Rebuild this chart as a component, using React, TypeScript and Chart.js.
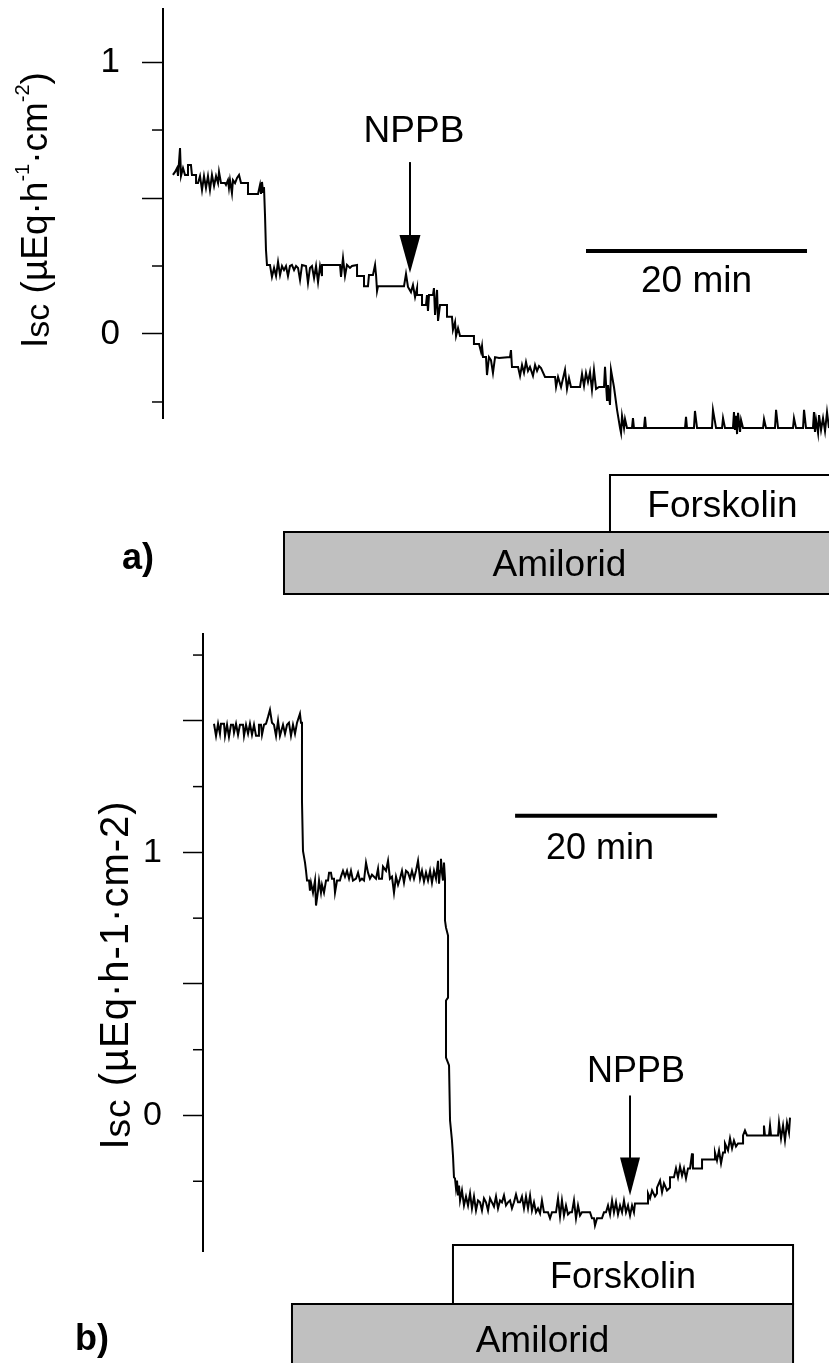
import React, { useEffect, useRef } from "react";
import { Chart, registerables } from "chart.js";

Chart.register(...registerables);

const FONT = '"Liberation Sans", Arial, Helvetica, sans-serif';
Chart.defaults.font.family = FONT;

// ---------------- Panel a) : time (min) and Isc (µEq·h-1·cm-2) ----------------
const minutesA = [
  0.90, 1.09, 1.27, 1.36, 1.54, 1.63, 1.81, 1.99, 2.26, 2.26,
  2.53, 2.62, 2.99, 2.99, 3.17, 3.35, 3.53, 3.71, 3.89, 4.07,
  4.25, 4.43, 4.62, 4.80, 4.98, 5.07, 5.25, 5.61, 5.70, 5.88,
  5.97, 6.06, 6.24, 6.33, 6.52, 6.70, 6.88, 7.06, 7.69, 7.69,
  8.60, 8.78, 8.87, 8.96, 9.05, 9.14, 9.23, 9.32, 9.41, 9.68,
  9.86, 10.05, 10.23, 10.41, 10.59, 10.77, 10.95, 11.13, 11.31, 11.49,
  11.67, 11.86, 12.04, 12.22, 12.40, 12.58, 12.94, 13.12, 13.30, 13.48,
  13.67, 13.85, 14.03, 14.21, 14.39, 14.39, 16.02, 16.11, 16.29, 16.47,
  16.65, 16.92, 17.10, 17.56, 17.56, 18.19, 18.19, 18.55, 18.64, 19.00,
  19.19, 19.28, 19.37, 19.46, 21.81, 21.99, 22.17, 22.44, 22.62, 22.81,
  22.99, 22.99, 23.44, 23.44, 23.80, 23.89, 23.98, 24.07, 24.43, 24.52,
  24.62, 24.80, 24.89, 25.07, 25.70, 25.70, 26.15, 26.24, 26.43, 26.52,
  26.70, 26.88, 28.14, 28.14, 28.60, 28.78, 28.87, 28.96, 29.23, 29.32,
  29.50, 29.68, 29.86, 30.05, 30.41, 31.40, 31.49, 31.58, 32.13, 32.31,
  32.49, 32.67, 32.85, 33.03, 33.21, 33.48, 33.67, 33.85, 34.03, 34.21,
  34.57, 35.48, 35.57, 35.75, 36.02, 36.38, 36.56, 36.74, 36.92, 37.74,
  37.92, 38.10, 38.28, 38.46, 38.64, 38.82, 39.00, 39.19, 39.46, 39.91,
  40.00, 40.18, 40.27, 40.45, 40.54, 40.81, 41.09, 41.36, 41.45, 41.54,
  41.72, 41.81, 41.99, 42.44, 42.53, 42.62, 43.53, 43.62, 43.71, 47.24,
  47.33, 47.42, 48.05, 48.14, 48.33, 49.68, 49.77, 50.05, 50.59, 50.68,
  50.86, 51.58, 51.67, 51.76, 51.86, 51.95, 52.04, 52.22, 52.31, 52.49,
  52.85, 54.30, 54.39, 54.57, 55.38, 55.48, 55.66, 57.01, 57.10, 57.29,
  57.92, 58.01, 58.19, 58.82, 58.91, 59.00, 59.10, 59.28, 59.37, 59.55,
  59.73, 59.91, 60.09, 60.27,
];
const iscA = [
  0.585, 0.596, 0.610, 0.581, 0.684, 0.581, 0.610, 0.585, 0.585, 0.621,
  0.621, 0.585, 0.585, 0.555, 0.555, 0.581, 0.529, 0.581, 0.537, 0.581,
  0.529, 0.585, 0.544, 0.581, 0.555, 0.596, 0.555, 0.555, 0.548, 0.566,
  0.537, 0.566, 0.518, 0.566, 0.555, 0.574, 0.585, 0.555, 0.555, 0.515,
  0.515, 0.548, 0.515, 0.559, 0.522, 0.540, 0.438, 0.309, 0.254, 0.254,
  0.210, 0.243, 0.213, 0.265, 0.217, 0.250, 0.235, 0.250, 0.213, 0.250,
  0.254, 0.235, 0.250, 0.243, 0.199, 0.254, 0.250, 0.188, 0.243, 0.250,
  0.206, 0.250, 0.191, 0.250, 0.213, 0.254, 0.254, 0.210, 0.279, 0.213,
  0.254, 0.243, 0.250, 0.254, 0.213, 0.213, 0.176, 0.176, 0.217, 0.217,
  0.254, 0.217, 0.158, 0.176, 0.176, 0.221, 0.173, 0.154, 0.180, 0.136,
  0.169, 0.143, 0.143, 0.107, 0.107, 0.143, 0.085, 0.143, 0.143, 0.169,
  0.070, 0.162, 0.048, 0.107, 0.107, 0.063, 0.063, 0.015, 0.044, -0.007,
  0.022, -0.007, -0.007, -0.037, -0.037, -0.066, -0.044, -0.085, -0.085, -0.151,
  -0.085, -0.096, -0.143, -0.085, -0.088, -0.085, -0.059, -0.121, -0.121, -0.154,
  -0.114, -0.143, -0.103, -0.136, -0.121, -0.154, -0.114, -0.136, -0.118, -0.125,
  -0.158, -0.158, -0.195, -0.158, -0.195, -0.132, -0.202, -0.162, -0.195, -0.195,
  -0.147, -0.191, -0.143, -0.176, -0.140, -0.206, -0.132, -0.202, -0.195, -0.195,
  -0.121, -0.243, -0.188, -0.261, -0.132, -0.195, -0.279, -0.346, -0.364, -0.301,
  -0.346, -0.313, -0.346, -0.346, -0.309, -0.346, -0.346, -0.305, -0.346, -0.346,
  -0.305, -0.346, -0.346, -0.283, -0.346, -0.346, -0.279, -0.346, -0.346, -0.309,
  -0.346, -0.346, -0.287, -0.353, -0.301, -0.368, -0.290, -0.360, -0.316, -0.346,
  -0.346, -0.346, -0.313, -0.346, -0.346, -0.279, -0.346, -0.346, -0.309, -0.346,
  -0.346, -0.279, -0.346, -0.346, -0.287, -0.360, -0.316, -0.364, -0.298, -0.353,
  -0.309, -0.357, -0.287, -0.346,
];
const ticksA = [-0.25, 0, 0.25, 0.5, 0.75, 1];
const majorTicksA = [0, 0.5, 1];
const labelledTicksA = [0, 1];
const treatmentNamesA = ["Forskolin", "Amilorid"];
const treatmentStartA = [40.45, 10.95];
const treatmentEndA = [60.8, 60.8];
const nppbTimeA = 22.35;
const nppbTipA = 0.224;
const scaleBarA = [38.28, 58.28];
const scaleBarLevelA = 0.305;

// ---------------- Panel b) ----------------
const minutesB = [
  1.09, 1.29, 1.49, 1.68, 1.78, 2.08, 2.18, 2.38, 2.57, 2.77,
  2.97, 3.07, 3.27, 3.47, 3.66, 3.96, 4.06, 4.26, 4.46, 4.65,
  4.85, 5.05, 5.25, 5.45, 5.54, 5.74, 5.84, 6.04, 6.24, 6.44,
  6.63, 6.83, 7.03, 7.23, 7.43, 7.62, 7.92, 8.12, 8.32, 8.51,
  8.71, 8.91, 9.11, 9.31, 9.50, 9.60, 9.70, 9.80, 9.80, 9.90,
  10.10, 10.20, 10.30, 10.50, 10.59, 10.69, 10.89, 11.09, 11.19, 11.39,
  11.49, 11.68, 11.78, 11.98, 12.18, 12.38, 12.48, 12.67, 12.77, 12.97,
  13.07, 13.27, 13.56, 13.66, 13.86, 14.06, 14.26, 14.46, 14.65, 14.85,
  15.15, 15.35, 15.54, 15.74, 15.94, 16.14, 16.34, 16.53, 16.73, 17.13,
  17.33, 17.43, 17.72, 17.82, 18.12, 18.32, 18.51, 18.71, 18.91, 19.11,
  19.31, 19.50, 19.70, 19.90, 20.10, 20.30, 20.50, 20.69, 20.89, 21.09,
  21.29, 21.49, 21.68, 21.88, 22.08, 22.28, 22.48, 22.67, 22.87, 23.07,
  23.27, 23.37, 23.47, 23.56, 23.66, 23.76, 23.86, 23.96, 23.96, 24.06,
  24.26, 24.26, 24.06, 24.06, 24.36, 24.46, 24.65, 24.75, 24.85, 24.95,
  25.05, 25.15, 25.25, 25.35, 25.45, 25.64, 25.84, 26.04, 26.24, 26.44,
  26.63, 26.83, 27.03, 27.23, 27.43, 27.62, 27.82, 28.02, 28.22, 28.42,
  28.61, 28.81, 29.01, 29.21, 29.41, 29.60, 29.80, 30.00, 30.20, 30.40,
  30.59, 30.79, 30.99, 31.19, 31.39, 31.58, 31.78, 31.98, 32.18, 32.38,
  32.57, 32.77, 32.97, 33.17, 33.37, 33.56, 33.76, 33.96, 34.16, 34.36,
  34.55, 34.75, 34.95, 35.15, 35.35, 35.54, 35.74, 35.94, 36.14, 36.34,
  36.53, 36.73, 36.93, 37.13, 37.33, 37.52, 38.12, 38.32, 38.51, 38.71,
  38.81, 39.01, 39.50, 39.70, 39.90, 40.10, 40.30, 40.50, 40.69, 40.89,
  41.09, 41.29, 41.49, 41.68, 41.88, 42.08, 42.28, 42.48, 42.67, 42.77,
  44.06, 44.06, 44.26, 44.46, 44.75, 44.95, 44.95, 45.25, 45.45, 45.64,
  45.94, 46.24, 46.24, 46.63, 46.83, 47.03, 47.23, 47.43, 47.62, 47.82,
  48.02, 48.22, 48.42, 48.51, 49.41, 49.41, 50.69, 50.69, 50.89, 51.09,
  51.29, 51.49, 51.68, 51.68, 51.98, 52.18, 52.38, 52.57, 52.77, 52.97,
  53.47, 53.47, 53.66, 53.86, 55.45, 55.54, 55.64, 56.04, 56.14, 56.24,
  56.93, 57.03, 57.23, 57.43, 57.62, 57.82, 58.02, 58.12,
];
const iscB = [
  1.489, 1.443, 1.489, 1.451, 1.489, 1.489, 1.443, 1.485, 1.439, 1.485,
  1.485, 1.455, 1.489, 1.447, 1.485, 1.485, 1.443, 1.485, 1.451, 1.489,
  1.447, 1.485, 1.443, 1.443, 1.485, 1.485, 1.447, 1.485, 1.489, 1.515,
  1.542, 1.493, 1.485, 1.443, 1.500, 1.443, 1.485, 1.451, 1.485, 1.493,
  1.443, 1.485, 1.451, 1.493, 1.515, 1.527, 1.493, 1.493, 1.196, 1.006,
  0.961, 0.930, 0.893, 0.893, 0.855, 0.885, 0.847, 0.893, 0.798, 0.855,
  0.893, 0.847, 0.877, 0.847, 0.893, 0.893, 0.923, 0.923, 0.900, 0.900,
  0.847, 0.893, 0.893, 0.908, 0.930, 0.908, 0.930, 0.900, 0.930, 0.893,
  0.900, 0.923, 0.893, 0.900, 0.893, 0.961, 0.923, 0.900, 0.915, 0.900,
  0.938, 0.900, 0.900, 0.946, 0.930, 0.968, 0.900, 0.908, 0.847, 0.908,
  0.877, 0.900, 0.930, 0.885, 0.930, 0.923, 0.900, 0.930, 0.900, 0.930,
  0.968, 0.900, 0.930, 0.889, 0.923, 0.893, 0.930, 0.885, 0.930, 0.900,
  0.968, 0.881, 0.930, 0.976, 0.923, 0.893, 0.961, 0.900, 0.741, 0.714,
  0.684, 0.448, 0.437, 0.220, 0.190, -0.019, -0.095, -0.152, -0.235, -0.239,
  -0.277, -0.247, -0.304, -0.266, -0.323, -0.285, -0.342, -0.308, -0.342, -0.296,
  -0.353, -0.308, -0.361, -0.323, -0.330, -0.361, -0.315, -0.330, -0.361, -0.315,
  -0.330, -0.346, -0.308, -0.353, -0.323, -0.330, -0.304, -0.342, -0.330, -0.323,
  -0.353, -0.330, -0.300, -0.330, -0.330, -0.308, -0.353, -0.308, -0.353, -0.304,
  -0.361, -0.330, -0.368, -0.353, -0.372, -0.323, -0.368, -0.368, -0.368, -0.391,
  -0.368, -0.368, -0.368, -0.315, -0.384, -0.323, -0.380, -0.342, -0.376, -0.368,
  -0.368, -0.323, -0.391, -0.342, -0.380, -0.368, -0.368, -0.368, -0.391, -0.391,
  -0.418, -0.391, -0.391, -0.368, -0.368, -0.342, -0.376, -0.323, -0.368, -0.330,
  -0.376, -0.342, -0.368, -0.323, -0.368, -0.342, -0.380, -0.342, -0.368, -0.334,
  -0.334, -0.296, -0.315, -0.285, -0.308, -0.296, -0.274, -0.247, -0.292, -0.258,
  -0.285, -0.274, -0.235, -0.235, -0.201, -0.235, -0.194, -0.228, -0.201, -0.239,
  -0.201, -0.201, -0.144, -0.201, -0.201, -0.167, -0.167, -0.141, -0.171, -0.133,
  -0.182, -0.141, -0.141, -0.106, -0.133, -0.087, -0.125, -0.095, -0.118, -0.106,
  -0.106, -0.076, -0.057, -0.076, -0.076, -0.038, -0.076, -0.076, -0.038, -0.076,
  -0.076, -0.027, -0.087, -0.038, -0.095, -0.027, -0.065, -0.008,
];
const ticksB = [-0.25, 0, 0.25, 0.5, 0.75, 1, 1.25, 1.5, 1.75];
const majorTicksB = [0, 0.5, 1, 1.5];
const labelledTicksB = [0, 1];
const treatmentNamesB = ["Forskolin", "Amilorid"];
const treatmentStartB = [24.75, 8.81];
const treatmentEndB = [58.42, 58.42];
const nppbTimeB = 42.28;
const nppbTipB = -0.304;
const scaleBarB = [30.9, 50.9];
const scaleBarLevelB = 1.139;

type TitlePart = { text: string; size: number; dy: number };

const decorPlugin = {
  id: "decor",
  afterDraw(chart: any, _args: any, o: any) {
    const ctx: CanvasRenderingContext2D = chart.ctx;
    const xs = chart.scales.x;
    const ys = chart.scales.y;
    const left = chart.chartArea.left;
    ctx.save();
    ctx.strokeStyle = "#000";
    ctx.fillStyle = "#000";

    // minor tick marks (shorter)
    ctx.lineWidth = 1.5;
    o.minorTicks.forEach((v: number) => {
      const y = ys.getPixelForValue(v);
      ctx.beginPath();
      ctx.moveTo(left - o.minorLen, y);
      ctx.lineTo(left, y);
      ctx.stroke();
    });

    // rotated y title with sub/superscripts
    const parts: TitlePart[] = o.title;
    (ctx as any).letterSpacing = o.titleSpacing || "0px";
    let total = 0;
    const widths = parts.map((p) => {
      ctx.font = `${p.size}px ${FONT}`;
      const w = ctx.measureText(p.text).width;
      total += w;
      return w;
    });
    ctx.save();
    ctx.translate(o.titleX, o.titleY + total / 2);
    ctx.rotate(-Math.PI / 2);
    ctx.textAlign = "left";
    ctx.textBaseline = "alphabetic";
    let cx = 0;
    parts.forEach((p, i) => {
      ctx.font = `${p.size}px ${FONT}`;
      ctx.fillText(p.text, cx, p.dy);
      cx += widths[i];
    });
    ctx.restore();
    (ctx as any).letterSpacing = "0px";

    // NPPB arrow
    const ax = xs.getPixelForValue(o.arrowT);
    const tip = ys.getPixelForValue(o.arrowV);
    ctx.lineWidth = 2;
    ctx.beginPath();
    ctx.moveTo(ax, tip - o.shaftLen);
    ctx.lineTo(ax, tip - o.headLen + 2);
    ctx.stroke();
    ctx.beginPath();
    ctx.moveTo(ax - o.headW / 2, tip - o.headLen);
    ctx.lineTo(ax + o.headW / 2, tip - o.headLen);
    ctx.lineTo(ax, tip);
    ctx.closePath();
    ctx.fill();
    ctx.font = `${o.textSize}px ${FONT}`;
    ctx.textAlign = "center";
    ctx.textBaseline = "alphabetic";
    ctx.fillText("NPPB", ax + o.arrowTextDx, tip - o.arrowTextAbove);

    // 20 min scale bar
    const bx0 = xs.getPixelForValue(o.bar[0]);
    const bx1 = xs.getPixelForValue(o.bar[1]);
    const by = ys.getPixelForValue(o.barLevel);
    ctx.lineWidth = 4;
    ctx.beginPath();
    ctx.moveTo(bx0, by);
    ctx.lineTo(bx1, by);
    ctx.stroke();
    ctx.fillText("20 min", (bx0 + bx1) / 2 + o.barTextDx, by + o.barTextBelow);

    // treatment boxes
    ctx.lineWidth = 2;
    o.names.forEach((name: string, i: number) => {
      const x0 = xs.getPixelForValue(o.starts[i]);
      const x1 = xs.getPixelForValue(o.ends[i]);
      const [top, bottom, base, size] = o.boxes[i];
      ctx.fillStyle = o.fills[i];
      ctx.fillRect(x0, top, x1 - x0, bottom - top);
      ctx.strokeRect(x0, top, x1 - x0, bottom - top);
      ctx.fillStyle = "#000";
      ctx.font = `${size}px ${FONT}`;
      ctx.textAlign = "center";
      ctx.fillText(name, (x0 + x1) / 2, base);
    });

    // panel letter
    ctx.font = `bold ${o.letterSize}px ${FONT}`;
    ctx.textAlign = o.letterAlign;
    ctx.fillText(o.letter, o.letterX, o.letterY);
    ctx.restore();
  },
};

function makeConfig(p: any): any {
  const major = new Set<number>(p.major);
  return {
    type: "line",
    data: {
      datasets: [
        {
          data: p.t.map((t: number, i: number) => ({ x: t, y: p.v[i] })),
          borderColor: "#000",
          borderWidth: 2,
          pointRadius: 0,
          tension: 0,
          fill: false,
          clip: false,
        },
      ],
    },
    options: {
      animation: false,
      responsive: false,
      layout: { padding: { top: p.padTop, bottom: p.padBottom, left: 0, right: 0 } },
      plugins: { legend: { display: false }, tooltip: { enabled: false }, decor: p.decor },
      scales: {
        x: { type: "linear", display: false, min: 0, max: p.xMax },
        y: {
          type: "linear",
          min: p.yMin,
          max: p.yMax,
          bounds: "data",
          afterBuildTicks: (s: any) => {
            s.ticks = p.ticks.map((v: number) => ({ value: v }));
          },
          afterFit: (s: any) => {
            s.width = p.axisX;
            s.paddingTop = 0;
            s.paddingBottom = 0;
          },
          border: { display: true, color: "#000", width: 2 },
          grid: {
            display: true,
            drawOnChartArea: false,
            drawTicks: true,
            tickLength: p.majorLen,
            tickWidth: 1.5,
            tickColor: (c: any) => (c.tick && major.has(c.tick.value) ? "#000" : "rgba(0,0,0,0)"),
          },
          ticks: {
            autoSkip: false,
            padding: p.labelPad,
            color: "#000",
            font: { size: p.tickFont, family: FONT },
            callback: (v: number) => (p.labelled.includes(v) ? String(v) : ""),
          },
        },
      },
    },
    plugins: [decorPlugin],
  };
}

export default function App() {
  const refA = useRef<HTMLCanvasElement>(null);
  const refB = useRef<HTMLCanvasElement>(null);

  useEffect(() => {
    const chartA = new Chart(
      refA.current as HTMLCanvasElement,
      makeConfig({
        t: minutesA,
        v: iscA,
        ticks: ticksA,
        major: majorTicksA,
        labelled: labelledTicksA,
        xMax: 60.27,
        yMin: -0.31,
        yMax: 1.195,
        padTop: 9,
        padBottom: 201.7,
        axisX: 163,
        majorLen: 21,
        labelPad: 22,
        tickFont: 35,
        decor: {
          minorTicks: ticksA.filter((v) => !majorTicksA.includes(v)),
          minorLen: 11,
          title: [
            { text: "I", size: 37, dy: 0 },
            { text: "sc", size: 34, dy: 2 },
            { text: " (µEq·h", size: 37, dy: 0 },
            { text: "-1", size: 20, dy: -18 },
            { text: "·cm", size: 37, dy: 0 },
            { text: "-2", size: 20, dy: -18 },
            { text: ")", size: 37, dy: 0 },
          ],
          titleX: 47,
          titleY: 210,
          arrowT: nppbTimeA,
          arrowV: nppbTipA,
          shaftLen: 111,
          headLen: 38,
          headW: 21,
          textSize: 37,
          arrowTextDx: 4,
          arrowTextAbove: 131,
          bar: scaleBarA,
          barLevel: scaleBarLevelA,
          barTextDx: 0,
          barTextBelow: 41,
          names: treatmentNamesA,
          starts: treatmentStartA,
          ends: treatmentEndA,
          fills: ["#ffffff", "#c0c0c0"],
          boxes: [
            [475, 532, 517, 37],
            [532, 594, 576, 37],
          ],
          letter: "a)",
          letterSize: 36,
          letterAlign: "left",
          letterX: 122,
          letterY: 569,
        },
      })
    );
    const chartB = new Chart(
      refB.current as HTMLCanvasElement,
      makeConfig({
        t: minutesB,
        v: iscB,
        ticks: ticksB,
        major: majorTicksB,
        labelled: labelledTicksB,
        xMax: 61.98,
        yMin: -0.515,
        yMax: 1.83,
        padTop: 14,
        padBottom: 112,
        axisX: 203,
        majorLen: 20,
        labelPad: 21,
        tickFont: 34,
        decor: {
          minorTicks: ticksB.filter((v) => !majorTicksB.includes(v)),
          minorLen: 10,
          title: [
            { text: "I", size: 40, dy: 0 },
            { text: "sc", size: 37, dy: 2 },
            { text: " (µEq·h-1·cm-2)", size: 40, dy: 0 },
          ],
          titleSpacing: "1px",
          titleX: 128,
          titleY: 355,
          arrowT: nppbTimeB,
          arrowV: nppbTipB,
          shaftLen: 100,
          headLen: 38,
          headW: 20,
          textSize: 36,
          arrowTextDx: 6,
          arrowTextAbove: 113,
          bar: scaleBarB,
          barLevel: scaleBarLevelB,
          barTextDx: -16,
          barTextBelow: 43,
          names: treatmentNamesB,
          starts: treatmentStartB,
          ends: treatmentEndB,
          fills: ["#ffffff", "#c0c0c0"],
          boxes: [
            [625, 684, 668, 36],
            [684, 760, 732, 37],
          ],
          letter: "b)",
          letterSize: 36,
          letterAlign: "right",
          letterX: 109,
          letterY: 730,
        },
      })
    );
    return () => {
      chartA.destroy();
      chartB.destroy();
    };
  }, []);

  return (
    <div style={{ position: "absolute", left: 0, top: 0, width: 829, height: 1363, background: "#fff" }}>
      <canvas ref={refA} width={829} height={620} style={{ position: "absolute", left: 0, top: 0 }} />
      <canvas ref={refB} width={829} height={743} style={{ position: "absolute", left: 0, top: 620 }} />
    </div>
  );
}
